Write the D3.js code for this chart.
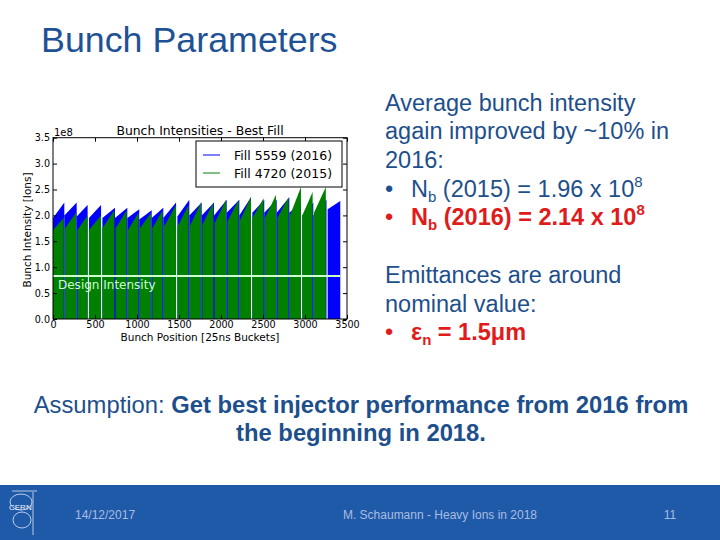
<!DOCTYPE html>
<html><head><meta charset="utf-8">
<script src="https://cdn.jsdelivr.net/npm/d3@7/dist/d3.min.js"></script>
<style>body{margin:0;background:#fff}svg{display:block}</style>
</head><body>
<svg id="s" width="720" height="540"></svg>
<script>
// ---- data ----
const xTicks = [0, 500, 1000, 1500, 2000, 2500, 3000, 3500];
const yTicks = [0, 0.5, 1.0, 1.5, 2.0, 2.5, 3.0, 3.5];
const yTickLabels = ["0.0","0.5","1.0","1.5","2.0","2.5","3.0","3.5"];
const seriesNames = ["Fill 5559 (2016)", "Fill 4720 (2015)"];
// Fill 4720 (2015) trains: start bucket, end bucket, intensity at start/end [1e8]
const green2015Start = [0, 143, 290, 428, 588, 746, 893, 1035, 1183, 1321, 1481, 1631, 1778, 1925, 2076, 2226, 2373, 2523, 2671, 2821, 2968, 3107];
const green2015End   = [127, 274, 412, 572, 730, 877, 1019, 1167, 1305, 1465, 1615, 1762, 1909, 2060, 2210, 2357, 2507, 2655, 2805, 2952, 3091, 3248];
const green2015V0    = [1.72, 1.75, 1.72, 1.72, 1.75, 1.75, 1.72, 1.75, 1.75, 1.78, 1.78, 1.80, 1.82, 1.85, 1.88, 1.90, 1.95, 1.95, 1.95, 2.00, 2.00, 2.05];
const green2015V1    = [1.95, 2.05, 2.00, 2.00, 2.10, 2.10, 2.05, 2.05, 2.10, 2.20, 2.20, 2.25, 2.25, 2.30, 2.30, 2.36, 2.33, 2.40, 2.35, 2.55, 2.45, 2.55];
// Fill 5559 (2016) trains
const blue2016Start = [0, 135, 282, 428, 588, 738, 885, 1027, 1175, 1313, 1481, 1623, 1770, 1917, 2068, 2218, 2373, 2515, 2663, 2813, 2968, 3099, 3270];
const blue2016End   = [135, 282, 412, 572, 738, 885, 1027, 1175, 1313, 1465, 1623, 1770, 1917, 2068, 2218, 2357, 2515, 2663, 2813, 2952, 3099, 3256, 3420];
const blue2016V0    = [1.95, 2.00, 1.98, 1.95, 1.95, 1.95, 1.95, 1.92, 1.95, 1.95, 1.98, 2.00, 2.00, 2.00, 2.05, 2.00, 2.05, 2.05, 2.05, 2.05, 2.00, 2.00, 2.12];
const blue2016V1    = [2.25, 2.25, 2.20, 2.20, 2.15, 2.15, 2.12, 2.10, 2.15, 2.25, 2.30, 2.25, 2.25, 2.30, 2.30, 2.35, 2.30, 2.30, 2.35, 2.25, 2.25, 2.30, 2.28];
const designIntensity = 0.83;
const designRange = [0, 3420];

// ---- slide ----
const svg = d3.select("#s");
const blueText = "#1d4f8c", red = "#e01b1b";
svg.append("text").attr("x", 41).attr("y", 52).attr("font-family", "Liberation Sans, Arial, sans-serif")
  .attr("font-size", 35.8).attr("fill", "#1f5294").text("Bunch Parameters");

// ---- chart ----
const L = 53, R = 347, T = 137.7, B = 319;
const x = d3.scaleLinear().domain([0, 3500]).range([L, R]);
const y = d3.scaleLinear().domain([0, 3.5]).range([B, T]);
const g = svg.append("g");
const area = d3.area().x(d => x(d[0])).y0(y(0)).y1(d => y(d[1]));

const blueTrains = blue2016Start.map((s, i) => [[s, blue2016V0[i]], [blue2016End[i], blue2016V1[i]]]);
const greenTrains = green2015Start.map((s, i) => [[s, green2015V0[i]], [green2015End[i], green2015V1[i]]]);
g.selectAll(".b").data(blueTrains).join("path").attr("d", area).attr("fill", "#0000ff");
g.selectAll(".g").data(greenTrains).join("path").attr("d", area).attr("fill", "#008000");

g.append("line").attr("x1", x(designRange[0])).attr("x2", x(designRange[1]))
  .attr("y1", y(designIntensity)).attr("y2", y(designIntensity))
  .attr("stroke", "#ccffcc").attr("stroke-width", 2);
g.append("text").attr("x", 58).attr("y", 289).attr("font-family", "DejaVu Sans").attr("font-size", 12)
  .attr("fill", "#ccffcc").text("Design Intensity");

const fmt = d => yTickLabels[yTicks.indexOf(d)];
const ax = (gen, tr) => {
  const a = g.append("g").attr("transform", tr).call(gen);
  a.select(".domain").remove();
  a.selectAll("text").attr("font-family", "DejaVu Sans").attr("font-size", 9.6).attr("fill", "#000");
  a.selectAll("line").attr("stroke", "#000");
  return a;
};
ax(d3.axisBottom(x).tickValues(xTicks).tickSize(-4).tickPadding(2).tickFormat(d3.format("d")), `translate(0,${B})`);
ax(d3.axisTop(x).tickValues(xTicks).tickSize(-4).tickFormat(""), `translate(0,${T})`);
ax(d3.axisLeft(y).tickValues(yTicks).tickSize(-4).tickPadding(3).tickFormat(fmt), `translate(${L},0)`);
ax(d3.axisRight(y).tickValues(yTicks).tickSize(-4).tickFormat(""), `translate(${R},0)`);
g.append("rect").attr("x", L).attr("y", T).attr("width", R - L).attr("height", B - T)
  .attr("fill", "none").attr("stroke", "#000").attr("stroke-width", 1);

g.append("text").attr("x", 54).attr("y", 135.5).attr("font-family", "DejaVu Sans").attr("font-size", 10).text("1e8");
g.append("text").attr("x", 200).attr("y", 134.5).attr("text-anchor", "middle").attr("font-family", "DejaVu Sans")
  .attr("font-size", 12.4).text("Bunch Intensities - Best Fill");
g.append("text").attr("x", 200).attr("y", 341).attr("text-anchor", "middle").attr("font-family", "DejaVu Sans")
  .attr("font-size", 10.5).text("Bunch Position [25ns Buckets]");
g.append("text").attr("transform", "translate(31,230) rotate(-90)").attr("text-anchor", "middle")
  .attr("font-family", "DejaVu Sans").attr("font-size", 10.5).text("Bunch Intensity [Ions]");

// legend
const lg = g.append("g");
lg.append("rect").attr("x", 196).attr("y", 141).attr("width", 146).attr("height", 46)
  .attr("fill", "#fff").attr("stroke", "#000").attr("stroke-width", 1);
const legColors = ["#0000ff", "#008000"];
seriesNames.forEach((n, i) => {
  const cy = 155 + i * 18;
  lg.append("line").attr("x1", 203).attr("x2", 220).attr("y1", cy).attr("y2", cy).attr("stroke", legColors[i]).attr("stroke-width", 1);
  lg.append("text").attr("x", 234).attr("y", cy + 4.5).attr("font-family", "DejaVu Sans").attr("font-size", 12.5).text(n);
});

// ---- right text block ----
const tf = "Liberation Sans, Arial, sans-serif";
const rt = svg.append("g").attr("font-family", tf).attr("font-size", 23.5);
const plain = (t, yy, col) => rt.append("text").attr("x", 385).attr("y", yy).attr("fill", col || blueText).text(t);
plain("Average bunch intensity", 110.7);
plain("again improved by ~10% in", 139.3);
plain("2016:", 167.7);
function bulletLine(yy, col, bold, parts) {
  rt.append("text").attr("x", 385).attr("y", yy).attr("fill", col).text("•");
  const t = rt.append("text").attr("x", 411).attr("y", yy).attr("fill", col).attr("font-weight", bold ? "bold" : "normal");
  parts.forEach(p => {
    const s = t.append("tspan").text(p[0]);
    if (p[1] === "sub") s.attr("font-size", 15).attr("dy", 5);
    if (p[1] === "sup") s.attr("font-size", 15).attr("dy", -10);
    if (p[1] === "back") s.attr("dy", -5);
  });
}
bulletLine(196.7, blueText, false, [["N"], ["b", "sub"], [" (2015) = 1.96 x 10", "back"], ["8", "sup"]]);
bulletLine(225, red, true, [["N"], ["b", "sub"], [" (2016) = 2.14 x 10", "back"], ["8", "sup"]]);
plain("Emittances are around", 282.7);
plain("nominal value:", 311.7);
bulletLine(340, red, true, [["ε"], ["n", "sub"], [" = 1.5μm", "back"]]);

// ---- bottom statement ----
const bt = svg.append("g").attr("font-family", tf).attr("font-size", 23.8).attr("fill", blueText).attr("text-anchor", "middle");
const l1 = bt.append("text").attr("x", 361).attr("y", 413);
l1.append("tspan").text("Assumption: ");
l1.append("tspan").attr("font-weight", "bold").text("Get best injector performance from 2016 from");
bt.append("text").attr("x", 361).attr("y", 441).attr("font-weight", "bold").text("the beginning in 2018.");

// ---- footer ----
svg.append("rect").attr("x", 0).attr("y", 485).attr("width", 720).attr("height", 55).attr("fill", "#1f5aa8");
const ft = svg.append("g").attr("font-family", tf).attr("font-size", 12).attr("fill", "#a9bde3");
ft.append("text").attr("x", 75).attr("y", 519).text("14/12/2017");
ft.append("text").attr("x", 440).attr("y", 519).attr("text-anchor", "middle").text("M. Schaumann - Heavy Ions in 2018");
ft.append("text").attr("x", 670).attr("y", 519).attr("text-anchor", "middle").text("11");
const logo = svg.append("g").attr("fill", "none").attr("stroke", "#dfe8f7").attr("stroke-width", 0.8);
logo.append("ellipse").attr("cx", 21).attr("cy", 502).attr("rx", 11).attr("ry", 8);
logo.append("ellipse").attr("cx", 22).attr("cy", 520).attr("rx", 9).attr("ry", 8);
logo.append("line").attr("x1", 12).attr("y1", 491).attr("x2", 37).attr("y2", 491);
logo.append("line").attr("x1", 33).attr("y1", 492).attr("x2", 33).attr("y2", 535);
svg.append("text").attr("x", 9).attr("y", 510).attr("font-family", tf).attr("font-size", 8).attr("fill", "#eef3fb").text("CERN");
</script>
</body></html>
